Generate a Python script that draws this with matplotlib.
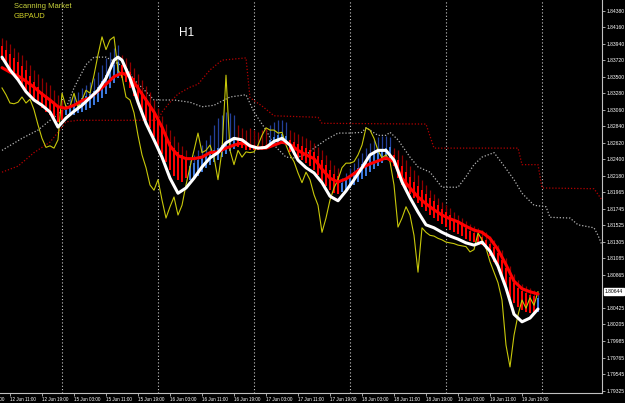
import matplotlib
matplotlib.use('Agg')
import matplotlib.pyplot as plt
from matplotlib.transforms import blended_transform_factory

plt.rcParams['font.family'] = ['Liberation Sans', 'DejaVu Sans']

# H1 bars, bar 0 = 12 Jun 09:00
yellow_close = [
    1.8335, 1.8326, 1.8315, 1.8314, 1.8316, 1.8323, 1.8315, 1.8320, 1.8306, 1.8286,
    1.8268, 1.8256, 1.8258, 1.8255, 1.8266, 1.8328, 1.8310, 1.8310, 1.8328, 1.8310,
    1.8319, 1.8332, 1.8328, 1.8352, 1.8379, 1.8403, 1.8386, 1.8399, 1.8403, 1.8359,
    1.8350, 1.8323, 1.8319, 1.8302, 1.8272, 1.8246, 1.8229, 1.8206, 1.8199, 1.8213,
    1.8186, 1.8162, 1.8177, 1.8190, 1.8166, 1.8179, 1.8206, 1.8230, 1.8252, 1.8275,
    1.8249, 1.8252, 1.8259, 1.8243, 1.8213, 1.8252, 1.8352, 1.8252, 1.8233, 1.8252,
    1.8243, 1.8250, 1.8249, 1.8250, 1.8259, 1.8272, 1.8282, 1.8279, 1.8279, 1.8275,
    1.8276, 1.8259, 1.8246, 1.8237, 1.8222, 1.8209, 1.8223, 1.8213, 1.8193, 1.8179,
    1.8143, 1.8162, 1.8186, 1.8202, 1.8213, 1.8229, 1.8235, 1.8235, 1.8237, 1.8246,
    1.8259, 1.8282, 1.8279, 1.8268, 1.8252, 1.8242, 1.8246, 1.8237, 1.8206, 1.8150,
    1.8162, 1.8177, 1.8166, 1.8139, 1.8090, 1.8149, 1.8143, 1.8139, 1.8138, 1.8135,
    1.8133, 1.8130, 1.8129, 1.8128, 1.8126, 1.8125, 1.8124, 1.8117, 1.8120, 1.8142,
    1.8133, 1.8122, 1.8104, 1.8090, 1.8076, 1.8053, 1.7993, 1.7964, 1.8006, 1.8033,
    1.8053, 1.8042, 1.8056, 1.8046, 1.8064]

white_x = [0, 2, 4, 6, 8, 10, 12, 14, 16, 18, 20, 22, 24, 26, 28, 29, 30, 32, 34, 36,
           38, 40, 42, 44, 46, 48, 50, 52, 54, 56, 58, 60, 62, 64, 66, 68, 70, 72, 74,
           76, 78, 80, 82, 84, 86, 88, 90, 92, 94, 96, 98, 100, 102, 104, 106, 108, 110,
           112, 114, 116, 118, 120, 122, 124, 126, 128, 130, 132, 134]
white_ma = [1.8376, 1.8359, 1.8346, 1.8330, 1.8319, 1.8312, 1.8303, 1.8283, 1.8295, 1.8304,
            1.8312, 1.8322, 1.8332, 1.8348, 1.8372, 1.8376, 1.8372, 1.8348, 1.8316, 1.8288,
            1.8266, 1.8243, 1.8215, 1.8195, 1.8202, 1.8215, 1.8230, 1.8242, 1.8249, 1.8262,
            1.8268, 1.8266, 1.8258, 1.8255, 1.8256, 1.8264, 1.8268, 1.8259, 1.8239, 1.8229,
            1.8222, 1.8209, 1.8191, 1.8185, 1.8198, 1.8213, 1.8229, 1.8246, 1.8252, 1.8252,
            1.8239, 1.8210, 1.8189, 1.8170, 1.8153, 1.8149, 1.8143, 1.8138, 1.8134, 1.8129,
            1.8126, 1.8130, 1.8118, 1.8098, 1.8069, 1.8034, 1.8024, 1.8029, 1.8041]

red_x = list(range(0, 135, 2))
red_ma = [1.8362, 1.8356, 1.8351, 1.8344, 1.8336, 1.8327, 1.8319, 1.8310, 1.8308, 1.8312,
          1.8318, 1.8322, 1.8331, 1.8340, 1.8350, 1.8355, 1.8350, 1.8335, 1.8319, 1.8303,
          1.8283, 1.8258, 1.8245, 1.8241, 1.8241, 1.8243, 1.8249, 1.8250, 1.8255, 1.8259,
          1.8262, 1.8258, 1.8255, 1.8255, 1.8259, 1.8263, 1.8260, 1.8252, 1.8246, 1.8241,
          1.8227, 1.8215, 1.8210, 1.8214, 1.8221, 1.8229, 1.8234, 1.8238, 1.8242, 1.8237,
          1.8215, 1.8202, 1.8190, 1.8181, 1.8173, 1.8166, 1.8161, 1.8157, 1.8151, 1.8146,
          1.8143, 1.8135, 1.8120, 1.8100, 1.8078, 1.8068, 1.8064, 1.8061]

span_a_x = [0, 5, 9, 12, 16, 18, 21, 23, 26, 28, 31, 33, 36, 38, 43, 47, 50, 53, 57, 61,
            63, 66, 68, 71, 73, 76, 78, 81, 84, 87, 90, 91, 94, 96, 97, 99, 102, 104, 107, 110,
            114, 116, 118, 120, 123, 125, 128, 130, 133, 136, 137, 142, 144, 148, 149, 150]
span_a = [1.8252, 1.8268, 1.8279, 1.8292, 1.8308, 1.8335, 1.8366, 1.8376, 1.8376, 1.8370,
          1.8362, 1.8346, 1.8330, 1.8319, 1.8319, 1.8316, 1.8310, 1.8312, 1.8323, 1.8326,
          1.8303, 1.8279, 1.8259, 1.8243, 1.8242, 1.8246, 1.8255, 1.8266, 1.8275, 1.8275,
          1.8276, 1.8282, 1.8272, 1.8272, 1.8276, 1.8266, 1.8243, 1.8230, 1.8223, 1.8203,
          1.8203, 1.8217, 1.8233, 1.8243, 1.8249, 1.8235, 1.8213, 1.8195, 1.8179, 1.8177,
          1.8163, 1.8162, 1.8153, 1.8149, 1.8139, 1.8126]

span_b_x = [0, 4, 8, 12, 14, 16, 19, 39, 40, 42, 44, 47, 49, 52, 55, 61, 62, 65, 68, 79,
            80, 106, 108, 129, 130, 134, 135, 148, 150]
span_b = [1.8223, 1.8231, 1.8249, 1.8263, 1.8276, 1.8290, 1.8292, 1.8292, 1.8303, 1.8316,
          1.8327, 1.8336, 1.8340, 1.8359, 1.8372, 1.8375, 1.8322, 1.8311, 1.8298, 1.8296,
          1.8288, 1.8287, 1.8255, 1.8255, 1.8233, 1.8233, 1.8202, 1.8201, 1.8186]

ha_open = [
    1.8391, 1.8386, 1.8380, 1.8375, 1.8370, 1.8364, 1.8359, 1.8351, 1.8343, 1.8336,
    1.8330, 1.8324, 1.8319, 1.8314, 1.8310, 1.8306, 1.8299, 1.8298, 1.8299, 1.8302,
    1.8303, 1.8306, 1.8308, 1.8312, 1.8316, 1.8322, 1.8327, 1.8335, 1.8342, 1.8348,
    1.8366, 1.8362, 1.8356, 1.8348, 1.8339, 1.8330, 1.8322, 1.8314, 1.8303, 1.8292,
    1.8282, 1.8272, 1.8263, 1.8255, 1.8250, 1.8246, 1.8243, 1.8213, 1.8215, 1.8218,
    1.8223, 1.8229, 1.8233, 1.8237, 1.8239, 1.8243, 1.8247, 1.8251, 1.8254, 1.8266,
    1.8264, 1.8262, 1.8260, 1.8259, 1.8258, 1.8258, 1.8259, 1.8255, 1.8258, 1.8259,
    1.8260, 1.8260, 1.8266, 1.8263, 1.8260, 1.8258, 1.8255, 1.8252, 1.8250, 1.8245,
    1.8239, 1.8233, 1.8226, 1.8221, 1.8218, 1.8197, 1.8199, 1.8202, 1.8206, 1.8210,
    1.8214, 1.8218, 1.8223, 1.8227, 1.8231, 1.8235, 1.8239, 1.8242, 1.8246, 1.8239,
    1.8231, 1.8223, 1.8217, 1.8210, 1.8205, 1.8199, 1.8194, 1.8189, 1.8185, 1.8179,
    1.8174, 1.8170, 1.8166, 1.8161, 1.8157, 1.8153, 1.8149, 1.8145, 1.8142, 1.8139,
    1.8137, 1.8133, 1.8127, 1.8123, 1.8116, 1.8106, 1.8096, 1.8084, 1.8076, 1.8069,
    1.8065, 1.8062, 1.8060, 1.8058, 1.8037]
ha_close = [
    1.8372, 1.8367, 1.8362, 1.8355, 1.8348, 1.8340, 1.8332, 1.8324, 1.8319, 1.8314,
    1.8308, 1.8303, 1.8299, 1.8292, 1.8290, 1.8292, 1.8306, 1.8311, 1.8314, 1.8316,
    1.8322, 1.8324, 1.8327, 1.8331, 1.8336, 1.8344, 1.8352, 1.8359, 1.8366, 1.8370,
    1.8348, 1.8343, 1.8335, 1.8324, 1.8314, 1.8303, 1.8292, 1.8282, 1.8270, 1.8258,
    1.8247, 1.8237, 1.8226, 1.8218, 1.8213, 1.8210, 1.8215, 1.8231, 1.8235, 1.8239,
    1.8243, 1.8247, 1.8250, 1.8252, 1.8255, 1.8259, 1.8263, 1.8266, 1.8267, 1.8256,
    1.8255, 1.8252, 1.8252, 1.8252, 1.8252, 1.8252, 1.8254, 1.8266, 1.8270, 1.8272,
    1.8274, 1.8271, 1.8250, 1.8246, 1.8242, 1.8239, 1.8235, 1.8231, 1.8226, 1.8219,
    1.8210, 1.8205, 1.8199, 1.8195, 1.8194, 1.8209, 1.8213, 1.8218, 1.8223, 1.8229,
    1.8234, 1.8239, 1.8243, 1.8247, 1.8251, 1.8254, 1.8255, 1.8256, 1.8231, 1.8215,
    1.8206, 1.8199, 1.8194, 1.8189, 1.8182, 1.8177, 1.8171, 1.8166, 1.8162, 1.8158,
    1.8154, 1.8150, 1.8146, 1.8143, 1.8141, 1.8138, 1.8134, 1.8131, 1.8130, 1.8129,
    1.8126, 1.8121, 1.8112, 1.8104, 1.8096, 1.8082, 1.8066, 1.8056, 1.8049, 1.8044,
    1.8040, 1.8037, 1.8036, 1.8037, 1.8056]
ha_high = [
    1.8401, 1.8399, 1.8393, 1.8388, 1.8383, 1.8379, 1.8372, 1.8366, 1.8359, 1.8354,
    1.8348, 1.8343, 1.8339, 1.8332, 1.8326, 1.8319, 1.8312, 1.8322, 1.8326, 1.8330,
    1.8335, 1.8339, 1.8343, 1.8348, 1.8356, 1.8366, 1.8375, 1.8383, 1.8388, 1.8392,
    1.8379, 1.8375, 1.8370, 1.8362, 1.8354, 1.8346, 1.8338, 1.8330, 1.8319, 1.8308,
    1.8298, 1.8287, 1.8279, 1.8271, 1.8263, 1.8258, 1.8252, 1.8239, 1.8246, 1.8252,
    1.8259, 1.8266, 1.8272, 1.8286, 1.8295, 1.8299, 1.8303, 1.8302, 1.8299, 1.8286,
    1.8282, 1.8279, 1.8282, 1.8279, 1.8276, 1.8279, 1.8282, 1.8286, 1.8290, 1.8292,
    1.8292, 1.8290, 1.8279, 1.8276, 1.8274, 1.8271, 1.8268, 1.8266, 1.8262, 1.8256,
    1.8252, 1.8246, 1.8239, 1.8233, 1.8229, 1.8215, 1.8222, 1.8229, 1.8235, 1.8242,
    1.8249, 1.8255, 1.8262, 1.8266, 1.8270, 1.8271, 1.8271, 1.8270, 1.8255, 1.8252,
    1.8246, 1.8239, 1.8231, 1.8226, 1.8219, 1.8213, 1.8206, 1.8199, 1.8194, 1.8189,
    1.8183, 1.8179, 1.8175, 1.8170, 1.8166, 1.8162, 1.8158, 1.8154, 1.8151, 1.8149,
    1.8146, 1.8143, 1.8138, 1.8133, 1.8126, 1.8120, 1.8109, 1.8098, 1.8088, 1.8080,
    1.8074, 1.8072, 1.8069, 1.8066, 1.8064]

price_ticks = [1.84380, 1.84160, 1.83940, 1.83720, 1.83500, 1.83280, 1.83060, 1.82840,
               1.82620, 1.82400, 1.82180, 1.81965, 1.81745, 1.81525, 1.81305, 1.81085,
               1.80865, 1.80425, 1.80205, 1.79985, 1.79765, 1.79545, 1.79325]
last_price = 1.80644

time_ticks = [2, 10, 18, 26, 34, 42, 50, 58, 66, 74, 82, 90, 98, 106, 114, 122, 130]
time_labels = ['12 Jun 11:00', '12 Jun 19:00', '15 Jun 03:00', '15 Jun 11:00',
               '15 Jun 19:00', '16 Jun 03:00', '16 Jun 11:00', '16 Jun 19:00',
               '17 Jun 03:00', '17 Jun 11:00', '17 Jun 19:00', '18 Jun 03:00',
               '18 Jun 11:00', '18 Jun 19:00', '19 Jun 03:00', '19 Jun 11:00',
               '19 Jun 19:00']
day_starts = [15, 39, 63, 87, 111, 135]

fig = plt.figure(figsize=(6.25, 4.03), dpi=100, facecolor='black')
ax = fig.add_axes([0, 10 / 403, 602 / 625, 393 / 403])
ax.set_facecolor('black')
ax.set_xlim(-0.5, 150)
ax.set_ylim(1.79293, 1.8452)

for d in day_starts:
    ax.axvline(d, color='#c8c8c8', lw=0.8, ls=(0, (1, 2)), zorder=1)

# ichimoku-like clouds (dotted)
ax.plot(span_a_x, span_a, color='#b4b4b4', lw=0.9, ls=(0, (1, 1.5)), zorder=2)
ax.plot(span_b_x, span_b, color='#b40000', lw=0.9, ls=(0, (1, 1.5)), zorder=2)

# heiken ashi smoothed bars
for i in range(len(ha_open)):
    o, c, h = ha_open[i], ha_close[i], ha_high[i]
    if c > o:
        body, wick = '#3c78dc', '#24409a'
    else:
        body, wick = '#ff0000', '#900000'
    ax.vlines(i, max(o, c), h, color=wick, lw=0.9, zorder=3)
    ax.bar(i, c - o, bottom=o, width=0.7, color=body, lw=0, zorder=3)

ax.plot(range(len(yellow_close)), yellow_close, color='#c8c80a', lw=0.8, zorder=4)
ax.plot(red_x, red_ma, color='#ff0000', lw=2.2, zorder=5, solid_capstyle='round')
ax.plot(white_x, white_ma, color='white', lw=2.2, zorder=6, solid_capstyle='round')

# axes styling
for s in ['top', 'left']:
    ax.spines[s].set_visible(False)
for s in ['right', 'bottom']:
    ax.spines[s].set_color('#c0c0c0')
    ax.spines[s].set_linewidth(0.8)

ax.yaxis.tick_right()
ax.set_yticks(price_ticks)
ax.set_yticklabels(['%.5f' % v for v in price_ticks], fontsize=3.6)
ax.set_xticks(time_ticks)
ax.set_xticklabels(time_labels, ha='left', fontsize=3.3)
ax.tick_params(axis='both', colors='#c0c0c0', labelcolor='white',
               length=2.2, width=0.6, pad=0.8)

xt = blended_transform_factory(ax.transData, ax.transAxes)
ax.text(-6, -0.009, '12 Jun 03:00', transform=xt, ha='left', va='top', fontsize=3.3,
        color='white', clip_on=False)

yt = blended_transform_factory(ax.transAxes, ax.transData)
ax.text(1.004, last_price, '%.5f' % last_price, transform=yt, ha='left', va='center',
        fontsize=3.6, color='black',
        bbox=dict(facecolor='white', edgecolor='white', pad=0.6), clip_on=False)

fig.text(14 / 625, 1 - 6 / 403, 'Scanning Market', color='#c8d23c', fontsize=5.5,
         va='center', ha='left')
fig.text(14 / 625, 1 - 16 / 403, 'GBPAUD', color='#d2d228', fontsize=5.5,
         va='center', ha='left')
fig.text(179 / 625, 1 - 33 / 403, 'H1', color='white', fontsize=8.5, va='center', ha='left')

fig.savefig('out.png', dpi=100, facecolor='black')
